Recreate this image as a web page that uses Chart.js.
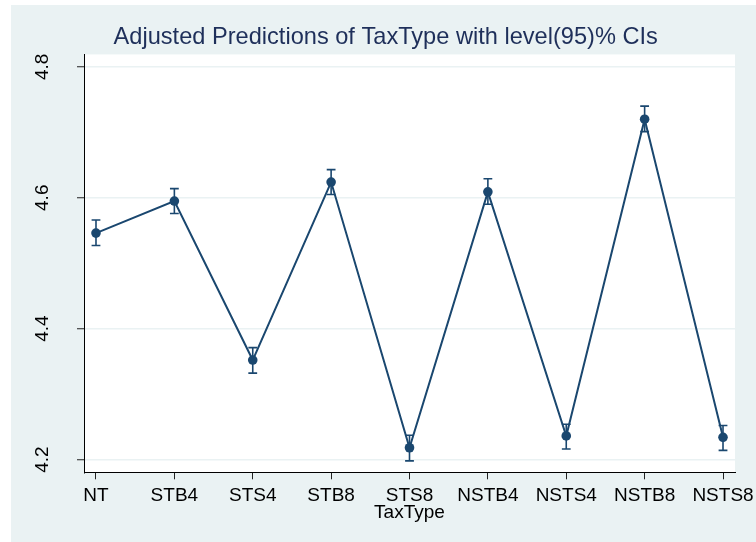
<!DOCTYPE html>
<html>
<head>
  <meta charset="UTF-8">
  <title>Adjusted Predictions of TaxType</title>
  <script src="https://cdn.jsdelivr.net/npm/chart.js"></script>
  <style>
    body { margin: 0; background: #fff; }
    canvas { display: block; }
  </style>
</head>
<body>
  <canvas id="chart" width="756" height="542"></canvas>

  <script>
    // categories on the x axis
    const taxTypes = ['NT', 'STB4', 'STS4', 'STB8', 'STS8', 'NSTB4', 'NSTS4', 'NSTB8', 'NSTS8'];
    // predicted margins and 95% CI bounds
    const margins = [4.546, 4.595, 4.352, 4.624, 4.218, 4.609, 4.236, 4.720, 4.234];
    const ciLow   = [4.527, 4.576, 4.332, 4.605, 4.198, 4.590, 4.216, 4.701, 4.214];
    const ciHigh  = [4.566, 4.614, 4.371, 4.643, 4.237, 4.629, 4.254, 4.740, 4.252];
    const yTicks  = [4.2, 4.4, 4.6, 4.8];

    const navy = '#1a476f';
    const FONT = 'Arial, "Liberation Sans", sans-serif';

    // graph region (pale) + white plot region
    const backgrounds = {
      id: 'backgrounds',
      beforeDraw(chart) {
        const ctx = chart.ctx;
        const a = chart.chartArea;
        ctx.save();
        ctx.fillStyle = '#eaf2f3';
        ctx.fillRect(11, 5, chart.width - 11, chart.height - 5);
        ctx.fillStyle = '#ffffff';
        ctx.fillRect(a.left, a.top, a.right - a.left, a.bottom - a.top);
        ctx.restore();
      }
    };

    // capped confidence interval bars
    const ciBars = {
      id: 'ciBars',
      beforeDatasetsDraw(chart) {
        const ctx = chart.ctx;
        const xs = chart.scales.x, ys = chart.scales.y;
        ctx.save();
        ctx.strokeStyle = navy;
        ctx.lineWidth = 1.6;
        margins.forEach((m, i) => {
          const x = xs.getPixelForValue(i);
          const lo = ys.getPixelForValue(ciLow[i]);
          const hi = ys.getPixelForValue(ciHigh[i]);
          ctx.beginPath();
          ctx.moveTo(x, lo); ctx.lineTo(x, hi);
          ctx.moveTo(x - 4.4, lo); ctx.lineTo(x + 4.4, lo);
          ctx.moveTo(x - 4.4, hi); ctx.lineTo(x + 4.4, hi);
          ctx.stroke();
        });
        ctx.restore();
      }
    };

    // vertical (rotated) y tick labels, Stata style
    const yLabels = {
      id: 'yLabels',
      afterDraw(chart) {
        const ctx = chart.ctx;
        const ys = chart.scales.y;
        ctx.save();
        ctx.fillStyle = '#000';
        ctx.font = '19px ' + FONT;
        ctx.textAlign = 'center';
        ctx.textBaseline = 'middle';
        yTicks.forEach(v => {
          ctx.save();
          ctx.translate(43, ys.getPixelForValue(v));
          ctx.rotate(-Math.PI / 2);
          ctx.fillText(v.toFixed(1), 0, 0);
          ctx.restore();
        });
        ctx.restore();
      }
    };

    const ctx = document.getElementById('chart').getContext('2d');
    new Chart(ctx, {
      type: 'line',
      data: {
        datasets: [{
          data: margins.map((v, i) => ({ x: i, y: v })),
          borderColor: navy,
          borderWidth: 2,
          tension: 0,
          pointRadius: 4.8,
          pointBackgroundColor: navy,
          pointBorderWidth: 0,
          fill: false
        }]
      },
      options: {
        responsive: false,
        devicePixelRatio: 1,
        animation: false,
        layout: { padding: { left: 36.4, right: 21, top: 0, bottom: 0 } },
        plugins: {
          legend: { display: false },
          tooltip: { enabled: false },
          title: {
            display: true,
            text: 'Adjusted Predictions of TaxType with level(95)% CIs',
            color: '#1e2f5a',
            font: { family: FONT, size: 23.6, weight: 'normal', lineHeight: 1.2 },
            padding: { top: 23.7, bottom: 2.4 }
          }
        },
        scales: {
          x: {
            type: 'linear',
            min: -0.153,
            max: 8.153,
            afterBuildTicks: s => { s.ticks = taxTypes.map((c, i) => ({ value: i })); },
            afterFit: s => { s.height = 69.7; s.paddingLeft = 0; s.paddingRight = 0; },
            grid: { drawOnChartArea: false, tickLength: 7, tickColor: '#222', tickWidth: 1 },
            border: { color: '#000', width: 1 },
            ticks: {
              autoSkip: false,
              maxRotation: 0,
              padding: 5,
              color: '#000',
              font: { family: FONT, size: 19, lineHeight: 1.2 },
              callback: (v) => taxTypes[v]
            },
            title: {
              display: true,
              text: 'TaxType',
              color: '#000',
              font: { family: FONT, size: 19, lineHeight: 1.2 },
              padding: { top: 0, bottom: 17.4 }
            }
          },
          y: {
            min: 4.1805,
            max: 4.819,
            afterBuildTicks: s => { s.ticks = yTicks.map(v => ({ value: v })); },
            afterFit: s => { s.width = 47.6; s.paddingTop = 0; s.paddingBottom = 0; },
            grid: { color: '#eaf2f3', lineWidth: 1.5, tickLength: 7, tickColor: '#222', tickWidth: 1 },
            border: { color: '#000', width: 1 },
            ticks: { display: false }
          }
        }
      },
      plugins: [backgrounds, ciBars, yLabels]
    });
  </script>
</body>
</html>
